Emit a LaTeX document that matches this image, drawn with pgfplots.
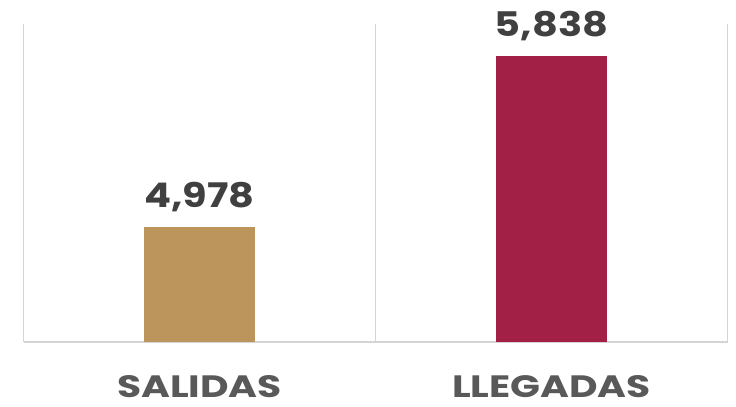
\documentclass[border=0pt]{standalone}
\usepackage{fontspec}
\setmainfont{Poppins}
\newfontfamily\valfont{Poppins}[FakeStretch=1.18]
\newfontfamily\catfont{Poppins}[FakeStretch=1.27]
\usepackage{pgfplots}
\pgfplotsset{compat=1.18}

\definecolor{tan}{HTML}{BC955C}
\definecolor{maroon}{HTML}{A21F45}
\definecolor{gridgray}{HTML}{D4D4D4}
\definecolor{valgray}{HTML}{404040}
\definecolor{catgray}{HTML}{595959}

\begin{document}
\begin{tikzpicture}
\begin{axis}[
    at={(23.5bp,65bp)}, anchor=south west,
    scale only axis,
    width=704bp, height=318bp,
    xmin=-0.5, xmax=1.5,
    ymin=4400, ymax=6000,
    axis x line=bottom, axis y line=none,
    axis line style={draw=gridgray, line width=1.6bp, -},
    xtick={0,1},
    xticklabels={SALIDAS, LLEGADAS},
    major tick length=0pt,
    minor xtick={-0.5,0.5,1.5},
    minor tick length=0pt,
    xminorgrids=true,
    minor grid style={draw=gridgray, line width=1.6bp},
    xticklabel style={font=\catfont\fontsize{31}{31}\selectfont\bfseries, text=catgray, anchor=base, yshift=-55bp},
    ytick=\empty,
    clip=false,
    /pgf/number format/assume math mode=true,
    /pgf/number format/1000 sep={,},
    /pgf/number format/fixed, /pgf/number format/precision=0,
]
\addplot[ybar, bar width=111bp, fill=tan, draw=none,
    nodes near coords,
    every node near coord/.append style={font=\valfont\fontsize{34}{34}\selectfont\bfseries, text=valgray, anchor=base, yshift=20bp}]
    coordinates {(0,4978)};
\addplot[ybar, bar width=111bp, fill=maroon, draw=none,
    nodes near coords,
    every node near coord/.append style={font=\valfont\fontsize{34}{34}\selectfont\bfseries, text=valgray, anchor=base, yshift=20bp}]
    coordinates {(1,5838)};
\end{axis}
\pgfresetboundingbox
\useasboundingbox (0,0) rectangle (736bp,407bp);
\end{tikzpicture}
\end{document}
